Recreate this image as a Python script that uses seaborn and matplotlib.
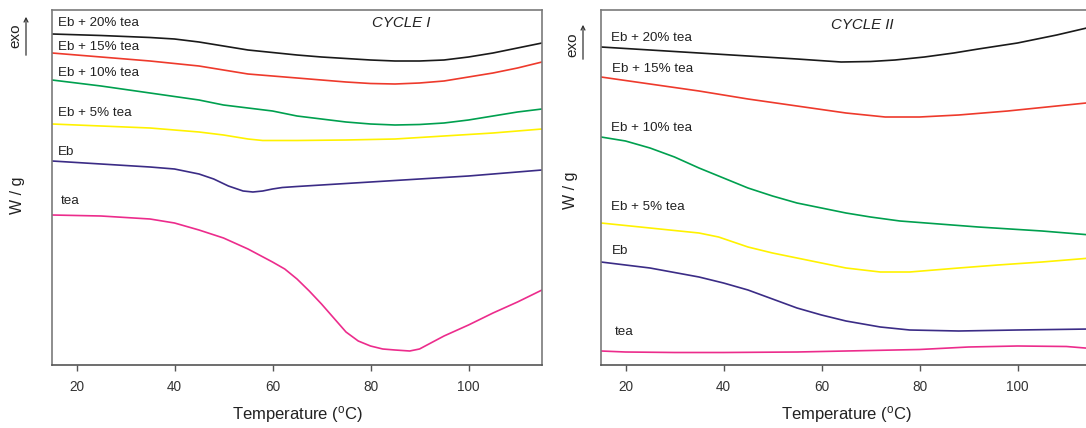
import matplotlib
matplotlib.use("Agg")
import matplotlib.pyplot as plt
import seaborn as sns
import pandas as pd

sns.set_theme(style="white")
plt.rcParams['font.family'] = ['Liberation Sans', 'DejaVu Sans']
plt.rcParams['mathtext.fontset'] = 'custom'
plt.rcParams['mathtext.rm'] = 'Liberation Sans'
plt.rcParams['mathtext.it'] = 'Liberation Sans:italic'

# ---------------- data (arbitrary heat-flow units, exo up) ----------------
# CYCLE I
c1_eb20_T = [15, 25, 35, 40, 45, 50, 55, 60, 65, 70, 80, 85, 90, 95, 100, 105, 110, 115]
c1_eb20_v = [331, 329.5, 327.5, 326, 323, 319, 315, 312.5, 310, 308, 305, 304, 304, 305, 308, 312, 317, 322]

c1_eb15_T = [15, 25, 35, 45, 50, 55, 60, 65, 70, 75, 80, 85, 90, 95, 100, 105, 110, 115]
c1_eb15_v = [312, 308, 304, 299, 295, 291, 289, 287, 285, 283, 281.5, 281, 282, 284, 288, 292, 297, 303]

c1_eb10_T = [15, 25, 35, 45, 50, 55, 60, 65, 70, 75, 80, 85, 90, 95, 100, 105, 110, 115]
c1_eb10_v = [285, 279, 272, 265, 260, 257, 254, 249, 246, 243, 241, 240, 240.5, 242, 245, 249, 253, 256]

c1_eb5_T = [15, 25, 35, 45, 50, 55, 58, 65, 75, 85, 95, 105, 115]
c1_eb5_v = [241, 239, 237, 233, 230, 226, 224.5, 224.5, 225, 226, 229, 232, 236]

c1_eb_T = [15, 25, 35, 40, 45, 48, 51, 54, 56, 58, 60, 62, 65, 70, 80, 90, 100, 110, 115]
c1_eb_v = [204, 201, 198, 196, 191, 186, 179, 174, 173, 174, 176, 177.5, 178.5, 180, 183, 186, 189, 193, 195]

c1_tea_T = [15, 25, 35, 40, 45, 50, 55, 60, 62.5, 65, 67.5, 70, 72.5, 75, 77.5, 80, 82.5, 85, 88, 90, 95, 100, 105, 110, 115]
c1_tea_v = [150, 149, 146, 142, 135, 127, 116, 103, 96, 86, 74, 61, 47, 33, 24, 19, 16, 15, 14, 16, 29, 40, 52, 63, 75]

# CYCLE II
c2_eb20_T = [15, 25, 35, 45, 55, 64, 70, 75, 81, 87, 92, 100, 108, 115]
c2_eb20_v = [318, 315, 312, 309, 306, 303, 303.5, 305, 308, 312, 316, 322, 330, 338]

c2_eb15_T = [15, 25, 35, 45, 55, 65, 73, 80, 88, 98, 106, 115]
c2_eb15_v = [288, 281, 274, 266, 259, 252, 248, 248, 250, 254, 258, 262.5]

c2_eb10_T = [15, 20, 25, 30, 35, 40, 45, 50, 55, 60, 65, 70, 76, 84, 92, 105, 115]
c2_eb10_v = [228, 224, 217, 208, 197, 187, 177, 169, 162, 157, 152, 148, 144, 141, 138, 134, 130]

c2_eb5_T = [15, 25, 35, 39, 45, 50, 55, 60, 65, 72, 78, 88, 96, 105, 115]
c2_eb5_v = [142, 137, 132, 128, 118, 112, 107, 102, 97, 93, 93, 97, 100, 103, 107]

c2_eb_T = [15, 25, 35, 40, 45, 50, 55, 60, 65, 72, 78, 88, 100, 115]
c2_eb_v = [103, 97, 88, 82, 75, 66, 57, 50, 44, 38, 35, 34, 35, 36]

c2_tea_T = [15, 20, 30, 40, 55, 70, 80, 90, 100, 110, 115]
c2_tea_v = [14, 13, 12.5, 12.5, 13, 14.5, 15.5, 18, 19, 18.5, 16.5]

series_names = ["Eb + 20% tea", "Eb + 15% tea", "Eb + 10% tea", "Eb + 5% tea", "Eb", "tea"]
series_colors = ["#1a1a1a", "#ee3a2c", "#00a04f", "#fff200", "#3b2c86", "#ec2c8c"]

cycle1 = [(c1_eb20_T, c1_eb20_v), (c1_eb15_T, c1_eb15_v), (c1_eb10_T, c1_eb10_v),
          (c1_eb5_T, c1_eb5_v), (c1_eb_T, c1_eb_v), (c1_tea_T, c1_tea_v)]
cycle2 = [(c2_eb20_T, c2_eb20_v), (c2_eb15_T, c2_eb15_v), (c2_eb10_T, c2_eb10_v),
          (c2_eb5_T, c2_eb5_v), (c2_eb_T, c2_eb_v), (c2_tea_T, c2_tea_v)]

# label anchor (T, value) per series
c1_label_T = [16.3, 16.3, 16.3, 16.3, 16.3, 16.7]
c1_label_v = [342, 318, 292, 252, 213, 164]
c2_label_T = [17.1, 17.3, 17.1, 17.1, 17.3, 17.9]
c2_label_v = [327, 296, 237, 158, 114, 33]

xticks = [20, 40, 60, 80, 100]

# ---------------- figure ----------------
W, H = 1086, 428
fig = plt.figure(figsize=(W / 100, H / 100), dpi=100)
ax1 = fig.add_axes([52 / W, (H - 365) / H, 490 / W, 355 / H])
ax2 = fig.add_axes([601 / W, (H - 365) / H, 490 / W, 355 / H])

def draw(ax, data, lab_T, lab_v, title, tx, ty):
    for (T, v), name, col in zip(data, series_names, series_colors):
        df = pd.DataFrame({"T": T, "v": v})
        sns.lineplot(data=df, x="T", y="v", ax=ax, color=col, lw=1.2,
                     estimator=None, sort=False)
    for name, lt, lv in zip(series_names, lab_T, lab_v):
        ax.text(lt, lv, name, fontsize=9.6, color="#222222", ha="left", va="center")
    ax.text(tx, ty, title, fontsize=10.8, style="italic", color="#222222",
            ha="center", va="center")
    ax.set_xlim(15, 115)
    ax.set_ylim(0, 355)
    ax.set_yticks([])
    ax.set_xticks(xticks)
    ax.set_xticklabels([str(t) for t in xticks], fontsize=9.8, color="#333333")
    ax.tick_params(axis="x", direction="out", length=4, width=1, color="#555555",
                   pad=7, bottom=True)
    ax.set_xlabel(r"Temperature ($^{\mathrm{o}}$C)", fontsize=12, color="#222222",
                  labelpad=7)
    ax.set_ylabel("")
    for s in ax.spines.values():
        s.set_color("#7a7a7a")
        s.set_linewidth(1.2)
    ax.spines["bottom"].set_color("#555555")

draw(ax1, cycle1, c1_label_T, c1_label_v, "CYCLE I", 86.2, 342)
draw(ax2, cycle2, c2_label_T, c2_label_v, "CYCLE II", 68.3, 340)

# y-axis annotations
def fx(px):
    return px / W

def fy(py):
    return 1 - py / H

fig.text(fx(17), fy(195), "W / g", rotation=90, fontsize=11.5, color="#222222",
         ha="center", va="center")
fig.text(fx(570), fy(190), "W / g", rotation=90, fontsize=11.5, color="#222222",
         ha="center", va="center")
fig.text(fx(15), fy(36), "exo", rotation=90, fontsize=11, color="#222222",
         ha="center", va="center")
fig.text(fx(572), fy(45), "exo", rotation=90, fontsize=11, color="#222222",
         ha="center", va="center")
for x0, y0, y1 in [(26, 58, 14), (583, 62, 22)]:
    fig.add_artist(matplotlib.patches.FancyArrowPatch(
        (fx(x0), fy(y0)), (fx(x0), fy(y1)), transform=fig.transFigure,
        arrowstyle="->", mutation_scale=7, lw=0.9, color="#333333"))

fig.savefig("out.png", dpi=100)
